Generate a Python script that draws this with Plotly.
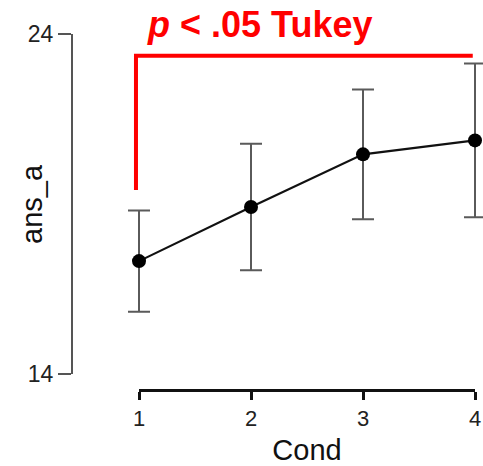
import plotly.graph_objects as go

# ---- data ----
conds = [1, 2, 3, 4]
means = [17.32, 18.91, 20.46, 20.87]
errors = [1.49, 1.86, 1.91, 2.26]
y_ticks = [14, 24]
x_ticks = [1, 2, 3, 4]
bracket_x = [0.973, 0.973, 3.98]
bracket_y = [19.41, 23.36, 23.36]
sig_label = "<b><i>p</i> &lt; .05 Tukey</b>"
y_title = "ans_a"
x_title = "Cond"

# ---- layout geometry (page pixels) ----
W, H = 483, 466
plot_l, plot_r, plot_t, plot_b = 73, 483, 34, 390
ml, mr, mt, mb = plot_l, W - plot_r, plot_t, H - plot_b
pw = plot_r - plot_l
ph = plot_b - plot_t

px_per_x = 112.0
x_lo = 1 - (139 - plot_l) / px_per_x
x_hi = 4 + (plot_r - 475) / px_per_x

def fx(px):  # page x pixel -> paper fraction
    return (px - plot_l) / pw

def fy(py):  # page y pixel -> paper fraction
    return (plot_b - py) / ph

FONT = "Liberation Sans, Arial, sans-serif"

fig = go.Figure()

fig.add_trace(go.Scatter(
    x=conds, y=means, mode="lines+markers",
    line=dict(color="#111111", width=2.2),
    marker=dict(color="#000000", size=14),
    error_y=dict(type="data", array=errors, visible=True,
                 color="#5a5a5a", thickness=2, width=11),
    showlegend=False, cliponaxis=False,
))

fig.add_trace(go.Scatter(
    x=bracket_x, y=bracket_y, mode="lines",
    line=dict(color="#ff0000", width=4),
    showlegend=False, cliponaxis=False,
))

# empty trace so the separate x-axis (range frame) gets drawn
fig.add_trace(go.Scatter(x=[None], y=[None], xaxis="x2", yaxis="y", showlegend=False))

fig.add_annotation(
    x=fx(145), y=fy(24.5), xref="paper", yref="paper",
    xanchor="left", yanchor="middle",
    text=sig_label, showarrow=False,
    font=dict(family=FONT, size=36, color="#ff0000"),
)

fig.add_annotation(
    x=fx(32), y=fy(204), xref="paper", yref="paper",
    xanchor="center", yanchor="middle", textangle=-90,
    text=y_title, showarrow=False,
    font=dict(family=FONT, size=29, color="#111111"),
)

fig.update_layout(
    width=W, height=H, autosize=False,
    margin=dict(l=ml, r=mr, t=mt, b=mb, pad=0, autoexpand=False),
    paper_bgcolor="white", plot_bgcolor="rgba(0,0,0,0)",
    font=dict(family=FONT, color="#222222"),
    xaxis=dict(domain=[0, 1], range=[x_lo, x_hi], visible=False, automargin=False),
    yaxis=dict(
        domain=[fy(374), 1], range=[14, 24], automargin=False,
        showline=True, linecolor="#555555", linewidth=2,
        ticks="outside", ticklen=13, tickwidth=2, tickcolor="#555555",
        tickvals=y_ticks, tickfont=dict(size=23, color="#222222"),
        showgrid=False, zeroline=False,
    ),
    xaxis2=dict(
        domain=[fx(139), fx(475)], range=[1, 4],
        anchor="free", position=0, automargin=False,
        showline=True, linecolor="#111111", linewidth=2.5,
        ticks="outside", ticklen=8, tickwidth=2.5, tickcolor="#111111",
        tickvals=x_ticks, tickfont=dict(size=22, color="#222222"),
        showgrid=False, zeroline=False,
        title=dict(text=x_title, font=dict(size=29, color="#111111"), standoff=10),
    ),
)

fig.write_html(
    "out.html",
    config={"displayModeBar": False, "responsive": False},
    post_script="document.body.style.margin='0';document.body.style.overflow='hidden';",
)
